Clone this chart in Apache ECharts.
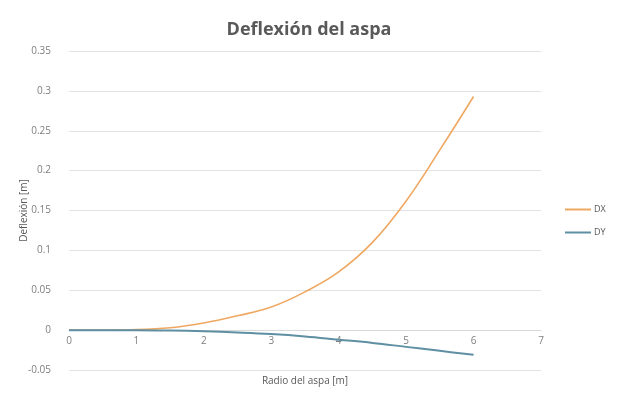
<!DOCTYPE html>
<html>
<head>
<meta charset="utf-8">
<script src="https://cdn.jsdelivr.net/npm/echarts@6/dist/echarts.min.js"></script>
<style>html,body{margin:0;padding:0;background:#fff}#c{width:618px;height:403px}</style>
</head>
<body>
<div id="c"></div>
<script>
const radio = [0, 0.5, 1, 1.5, 2, 2.5, 3, 3.5, 4, 4.5, 5, 5.5, 6];
const dx = [0, 0.0001, 0.0006, 0.003, 0.009, 0.018, 0.029, 0.048, 0.073, 0.11, 0.162, 0.226, 0.293];
const dy = [0, 0, 0, -0.0005, -0.0015, -0.003, -0.005, -0.008, -0.012, -0.016, -0.021, -0.026, -0.031];
const seriesNames = ['DX', 'DY'];
const titleText = 'Deflexión del aspa';
const xName = 'Radio del aspa [m]';
const yName = 'Deflexión [m]';
const yMin = -0.05, yMax = 0.35, yStep = 0.05;

const font = 'Open Sans';
const W = 618, H = 403;
const gTop = 51, gBottom = 33;
// distance from bottom of grid to the y=0 line, so the x axis sits on zero like the original
const zeroOffset = (H - gTop - gBottom) * (0 - yMin) / (yMax - yMin);

const chart = echarts.init(document.getElementById('c'), null, {renderer: 'canvas'});
chart.setOption({
  animation: false,
  backgroundColor: '#fff',
  title: {
    text: titleText, left: 'center', top: 16,
    textStyle: {fontFamily: font, fontSize: 18, fontWeight: 'bold', color: '#595959'}
  },
  legend: {
    orient: 'vertical', left: 560, top: 200, itemGap: 14,
    itemWidth: 26, itemHeight: 2, icon: 'rect',
    textStyle: {fontFamily: font, fontSize: 9, color: '#595959', padding: [0, 0, 0, -2]},
    data: seriesNames
  },
  grid: {left: 69, right: 77, top: gTop, bottom: gBottom, containLabel: false, outerBoundsMode: 'none'},
  xAxis: {
    type: 'value', min: 0, max: 7, interval: 1,
    offset: -zeroOffset,
    name: xName, nameLocation: 'middle', nameGap: 46,
    nameTextStyle: {fontFamily: font, fontSize: 10, color: '#595959'},
    axisLine: {onZero: false, lineStyle: {color: '#d9d9d9'}},
    axisTick: {show: false},
    axisLabel: {fontFamily: font, fontSize: 10, color: '#7f7f7f', margin: 6},
    splitLine: {show: false}
  },
  yAxis: {
    type: 'value', min: yMin, max: yMax, interval: yStep,
    name: yName, nameLocation: 'middle', nameGap: 40, nameRotate: 90,
    nameMoveOverlap: false,
    nameTextStyle: {fontFamily: font, fontSize: 10, color: '#595959'},
    axisLine: {show: false}, axisTick: {show: false},
    axisLabel: {fontFamily: font, fontSize: 10, color: '#7f7f7f', margin: 18,
      formatter: v => String(+v.toFixed(2))},
    splitLine: {lineStyle: {color: '#e3e3e3', width: 1}}
  },
  series: [
    {name: seriesNames[0], type: 'line', smooth: 0.4, showSymbol: false,
     data: radio.map((r, i) => [r, dx[i]]),
     lineStyle: {color: '#EFA862', width: 1.6}, itemStyle: {color: '#EFA862'}},
    {name: seriesNames[1], type: 'line', smooth: 0.4, showSymbol: false,
     data: radio.map((r, i) => [r, dy[i]]),
     lineStyle: {color: '#5F8FA3', width: 2}, itemStyle: {color: '#5F8FA3'}}
  ]
});
</script>
</body>
</html>
